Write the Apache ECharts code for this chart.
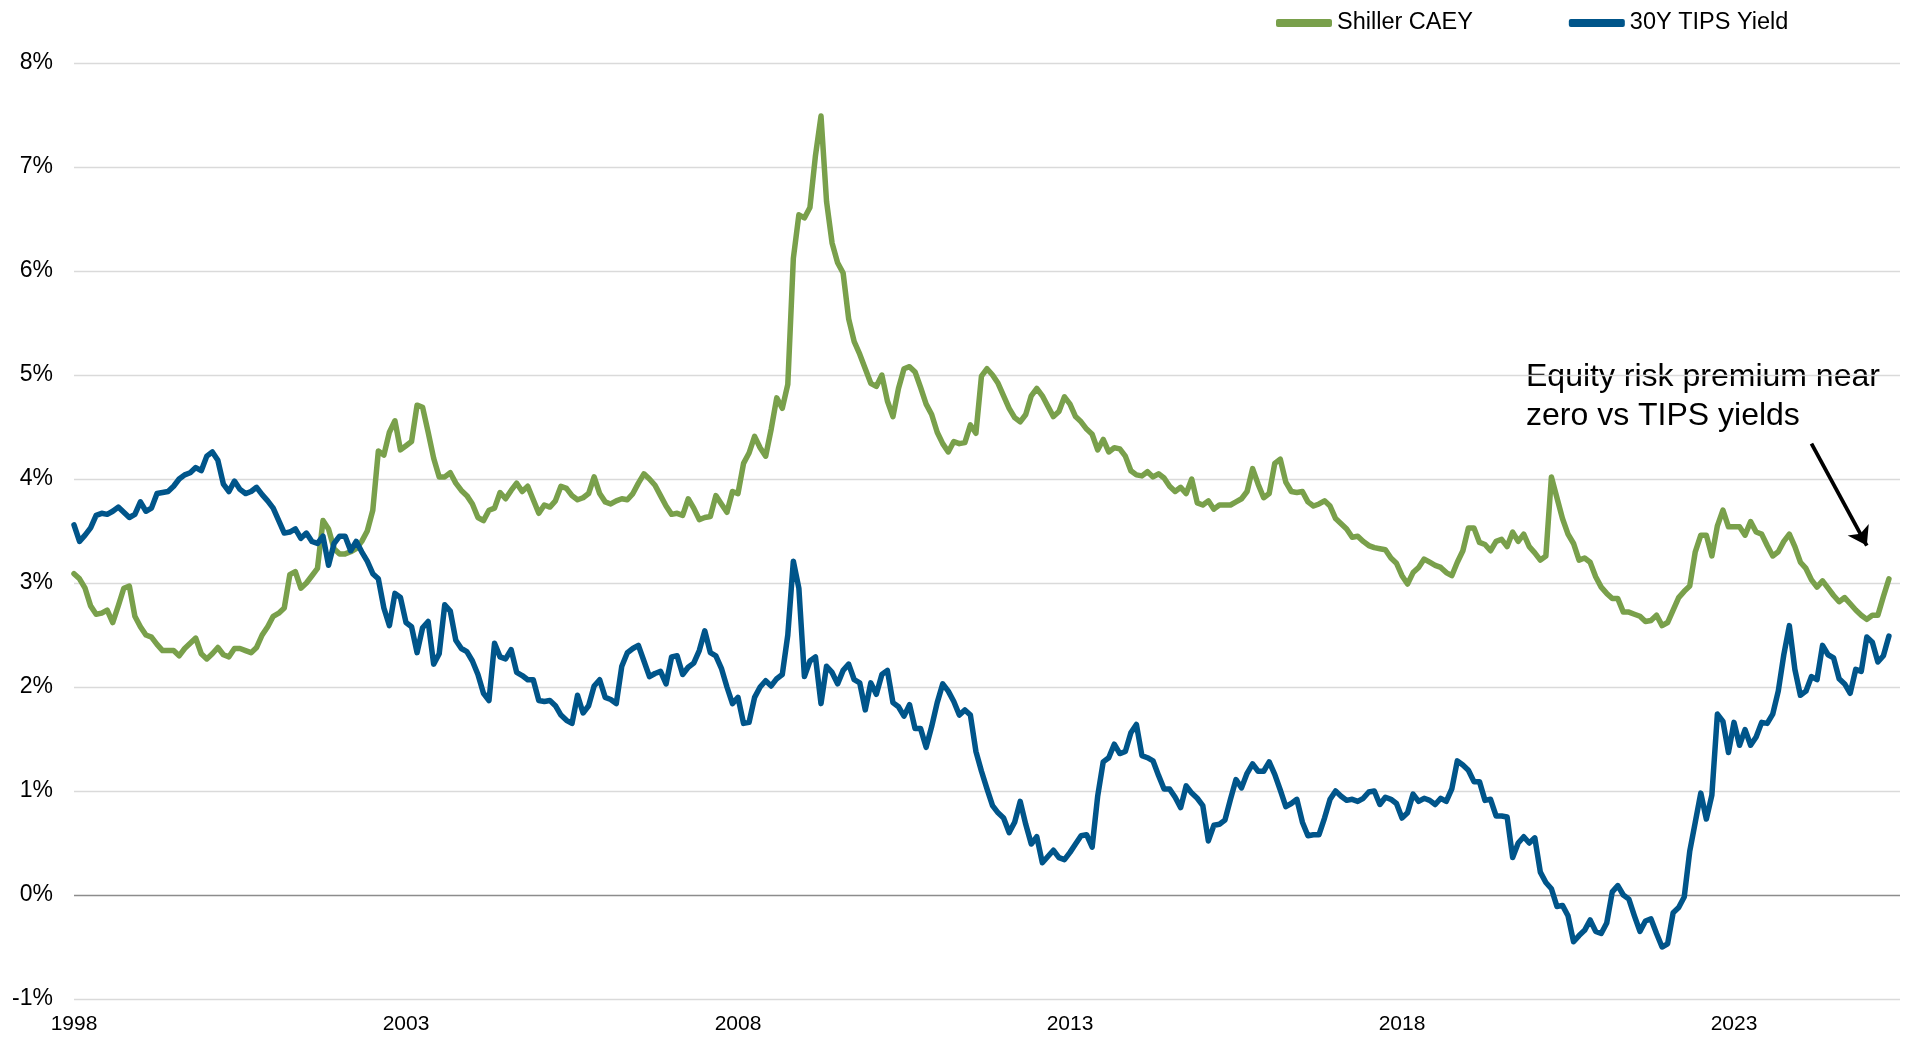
<!DOCTYPE html>
<html>
<head>
<meta charset="utf-8">
<title>Shiller CAEY vs 30Y TIPS Yield</title>
<script src="https://cdn.jsdelivr.net/npm/echarts@6.0.0/dist/echarts.min.js"></script>
<style>
  html, body { margin: 0; padding: 0; background: #fff; }
  #chart { width: 1910px; height: 1042px; }
</style>
</head>
<body>
<div id="chart"></div>
<script>
// monthly observations, Jan 1998 .. May 2025 (one row per year)
const startYear = 1998;
const yearTicks = [1998, 2003, 2008, 2013, 2018, 2023];
const pctTicks = [-1, 0, 1, 2, 3, 4, 5, 6, 7, 8];

const shillerCaey = [
  3.09, 3.04, 2.95, 2.78, 2.70, 2.71, 2.74, 2.62, 2.78, 2.95, 2.97, 2.68,
  2.58, 2.50, 2.48, 2.41, 2.35, 2.35, 2.35, 2.30, 2.37, 2.42, 2.47, 2.32,
  2.27, 2.32, 2.38, 2.31, 2.29, 2.37, 2.37, 2.35, 2.33, 2.38, 2.50, 2.58,
  2.68, 2.71, 2.76, 3.08, 3.11, 2.95, 3.00, 3.07, 3.14, 3.60, 3.52, 3.33,
  3.28, 3.28, 3.30, 3.33, 3.40, 3.50, 3.70, 4.27, 4.23, 4.45, 4.56, 4.28,
  4.32, 4.36, 4.71, 4.69, 4.45, 4.20, 4.02, 4.02, 4.06, 3.96, 3.89, 3.84,
  3.76, 3.63, 3.60, 3.70, 3.72, 3.87, 3.81, 3.89, 3.96, 3.88, 3.93, 3.80,
  3.67, 3.75, 3.73, 3.79, 3.93, 3.91, 3.84, 3.80, 3.82, 3.86, 4.02, 3.86,
  3.78, 3.76, 3.79, 3.81, 3.80, 3.86, 3.96, 4.05, 4.00, 3.94, 3.84, 3.74,
  3.66, 3.67, 3.65, 3.81, 3.72, 3.61, 3.63, 3.64, 3.84, 3.76, 3.68, 3.88,
  3.86, 4.15, 4.25, 4.41, 4.30, 4.22, 4.48, 4.78, 4.68, 4.91, 6.12, 6.54,
  6.51, 6.61, 7.11, 7.49, 6.67, 6.27, 6.08, 5.98, 5.54, 5.32, 5.20, 5.06,
  4.92, 4.89, 5.00, 4.75, 4.60, 4.87, 5.06, 5.08, 5.03, 4.88, 4.72, 4.62,
  4.45, 4.34, 4.26, 4.36, 4.34, 4.35, 4.52, 4.44, 4.99, 5.06, 5.00, 4.92,
  4.80, 4.68, 4.59, 4.55, 4.62, 4.80, 4.87, 4.80, 4.70, 4.60, 4.65, 4.79,
  4.72, 4.60, 4.55, 4.48, 4.43, 4.28, 4.38, 4.26, 4.30, 4.29, 4.22, 4.08,
  4.04, 4.03, 4.07, 4.02, 4.05, 4.01, 3.93, 3.88, 3.92, 3.86, 4.00, 3.77,
  3.75, 3.79, 3.71, 3.75, 3.75, 3.75, 3.78, 3.81, 3.88, 4.10, 3.95, 3.82,
  3.86, 4.15, 4.19, 3.97, 3.88, 3.87, 3.88, 3.78, 3.74, 3.76, 3.79, 3.74,
  3.62, 3.57, 3.52, 3.44, 3.45, 3.40, 3.36, 3.34, 3.33, 3.32, 3.24, 3.19,
  3.07, 2.99, 3.10, 3.15, 3.23, 3.20, 3.17, 3.15, 3.10, 3.07, 3.20, 3.31,
  3.53, 3.53, 3.39, 3.37, 3.31, 3.40, 3.42, 3.35, 3.49, 3.40, 3.47, 3.35,
  3.29, 3.22, 3.26, 4.02, 3.82, 3.62, 3.47, 3.38, 3.22, 3.24, 3.20, 3.06,
  2.96, 2.90, 2.85, 2.85, 2.72, 2.72, 2.70, 2.68, 2.63, 2.64, 2.69, 2.59,
  2.62, 2.74, 2.86, 2.92, 2.97, 3.30, 3.46, 3.46, 3.26, 3.55, 3.70, 3.54,
  3.54, 3.54, 3.46, 3.59, 3.49, 3.47, 3.36, 3.26, 3.30, 3.40, 3.47, 3.35,
  3.20, 3.14, 3.03, 2.96, 3.02, 2.95, 2.88, 2.82, 2.86, 2.80, 2.74, 2.69,
  2.65, 2.69, 2.69, 2.87, 3.04
];

const tipsYield = [
  3.56, 3.40, 3.46, 3.53, 3.65, 3.67, 3.66, 3.69, 3.73, 3.68, 3.63, 3.66,
  3.78, 3.69, 3.72, 3.86, 3.87, 3.88, 3.93, 4.00, 4.04, 4.06, 4.11, 4.08,
  4.22, 4.26, 4.18, 3.95, 3.88, 3.98, 3.90, 3.86, 3.88, 3.92, 3.85, 3.79,
  3.72, 3.60, 3.48, 3.49, 3.52, 3.43, 3.48, 3.40, 3.38, 3.45, 3.17, 3.38,
  3.45, 3.45, 3.31, 3.40, 3.30, 3.21, 3.09, 3.04, 2.76, 2.59, 2.90, 2.86,
  2.62, 2.58, 2.33, 2.57, 2.63, 2.22, 2.32, 2.79, 2.73, 2.45, 2.37, 2.34,
  2.25, 2.12, 1.94, 1.87, 2.42, 2.29, 2.27, 2.36, 2.14, 2.11, 2.07, 2.07,
  1.87, 1.86, 1.87, 1.82, 1.73, 1.68, 1.65, 1.92, 1.75, 1.82, 2.01, 2.07,
  1.90, 1.88, 1.84, 2.20, 2.33, 2.37, 2.40, 2.25, 2.10, 2.13, 2.15, 2.03,
  2.29, 2.30, 2.12, 2.19, 2.23, 2.35, 2.54, 2.33, 2.30, 2.18, 2.00, 1.84,
  1.90, 1.65, 1.66, 1.90, 2.00, 2.06, 2.01, 2.08, 2.12, 2.50, 3.21, 2.95,
  2.10, 2.25, 2.29, 1.84, 2.20, 2.14, 2.03, 2.16, 2.22, 2.07, 2.04, 1.78,
  2.04, 1.93, 2.12, 2.16, 1.85, 1.81, 1.72, 1.83, 1.60, 1.60, 1.42, 1.62,
  1.85, 2.03, 1.96, 1.86, 1.73, 1.78, 1.73, 1.38, 1.19, 1.02, 0.86, 0.79,
  0.74, 0.60, 0.70, 0.90, 0.68, 0.49, 0.56, 0.31, 0.37, 0.43, 0.36, 0.34,
  0.41, 0.49, 0.57, 0.58, 0.46, 0.95, 1.28, 1.32, 1.45, 1.36, 1.38, 1.56,
  1.64, 1.34, 1.32, 1.29, 1.15, 1.02, 1.02, 0.94, 0.84, 1.05, 0.98, 0.93,
  0.86, 0.52, 0.67, 0.68, 0.72, 0.92, 1.11, 1.03, 1.17, 1.26, 1.19, 1.19,
  1.28, 1.16, 1.01, 0.85, 0.88, 0.92, 0.70, 0.57, 0.58, 0.58, 0.74, 0.92,
  1.00, 0.95, 0.91, 0.92, 0.90, 0.93, 0.99, 1.00, 0.87, 0.94, 0.92, 0.88,
  0.74, 0.79, 0.97, 0.90, 0.93, 0.91, 0.87, 0.93, 0.90, 1.02, 1.29, 1.25,
  1.20, 1.09, 1.09, 0.91, 0.92, 0.76, 0.76, 0.75, 0.36, 0.50, 0.56, 0.50,
  0.55, 0.22, 0.12, 0.06, -0.11, -0.10, -0.20, -0.45, -0.39, -0.34, -0.24, -0.35,
  -0.37, -0.27, 0.03, 0.09, 0.00, -0.04, -0.20, -0.35, -0.25, -0.23, -0.37, -0.50,
  -0.47, -0.17, -0.12, -0.02, 0.42, 0.70, 0.98, 0.73, 0.96, 1.74, 1.67, 1.37,
  1.66, 1.44, 1.59, 1.44, 1.52, 1.66, 1.65, 1.74, 1.96, 2.31, 2.59, 2.17,
  1.92, 1.96, 2.10, 2.07, 2.40, 2.31, 2.28, 2.08, 2.03, 1.94, 2.17, 2.15,
  2.48, 2.43, 2.24, 2.30, 2.49
];

const font = '"Liberation Sans", Arial, sans-serif';
const green = '#79A04B';
const blue = '#00558A';

// annotation arrow, in (month index, %) space
const arrowFrom = [314, 4.34];
const arrowTo = [324, 3.36];

const chart = echarts.init(document.getElementById('chart'));

const option = {
  animation: false,
  backgroundColor: '#fff',
  grid: { left: 74, right: 10, top: 63, bottom: 43, containLabel: false },
  legend: {
    left: 1271,
    top: 6,
    icon: 'roundRect',
    itemWidth: 56,
    itemHeight: 8,
    itemGap: 96,
    textStyle: { fontSize: 23.5, color: '#000', fontFamily: font },
    data: ['Shiller CAEY', '30Y TIPS Yield'],
  },
  xAxis: {
    type: 'value',
    min: 0,
    max: 330,
    interval: 60,
    axisLine: { show: false },
    axisTick: { show: false },
    splitLine: { show: false },
    axisLabel: {
      margin: 15,
      fontSize: 21,
      color: '#000',
      fontFamily: font,
      formatter: (v) => {
        const yr = startYear + v / 12;
        return yearTicks.includes(yr) ? String(yr) : '';
      },
    },
  },
  yAxis: {
    type: 'value',
    min: pctTicks[0],
    max: pctTicks[pctTicks.length - 1],
    interval: 1,
    axisLine: { show: false },
    axisTick: { show: false },
    axisLabel: {
      margin: 21,
      fontSize: 23,
      color: '#000',
      fontFamily: font,
      formatter: (v) => v + '%',
    },
    splitLine: {
      show: true,
      lineStyle: {
        width: 1.3,
        color: pctTicks.map((t) => (t === 0 ? '#8c8c8c' : '#dadada')),
      },
    },
  },
  series: [
    {
      name: 'Shiller CAEY',
      type: 'line',
      showSymbol: false,
      symbol: 'none',
      color: green,
      lineStyle: { width: 5.5, color: green, cap: 'round', join: 'round' },
      data: shillerCaey.map((v, i) => [i, v]),
    },
    {
      name: '30Y TIPS Yield',
      type: 'line',
      showSymbol: false,
      symbol: 'none',
      color: blue,
      lineStyle: { width: 5.5, color: blue, cap: 'round', join: 'round' },
      data: tipsYield.map((v, i) => [i, v]),
      markLine: {
        silent: true,
        symbol: ['none', 'arrow'],
        symbolSize: 18,
        label: { show: false },
        lineStyle: { color: '#000', width: 3.8, type: 'solid' },
        data: [[{ coord: arrowFrom }, { coord: arrowTo }]],
      },
    },
  ],
  graphic: [
    {
      type: 'text',
      left: 1526,
      top: 358,
      style: {
        text: 'Equity risk premium near\nzero vs TIPS yields',
        fontSize: 32,
        fontFamily: font,
        fill: '#000',
        lineHeight: 39,
      },
    },
  ],
};

chart.setOption(option);
</script>
</body>
</html>
